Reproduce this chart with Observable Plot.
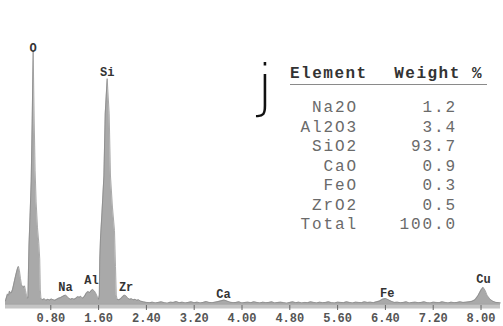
<!DOCTYPE html>
<html><head><meta charset="utf-8">
<script src="https://cdn.jsdelivr.net/npm/d3@7"></script>
<script src="https://cdn.jsdelivr.net/npm/@observablehq/plot@0.6"></script>
<style>
body{margin:0;background:#fff;}
#wrap{position:relative;width:503px;height:326px;overflow:hidden;}
#wrap svg{position:absolute;left:0;top:0;}
#jlab{position:absolute;left:257px;top:57px;font-family:"DejaVu Sans",sans-serif;font-weight:200;font-size:57px;line-height:57px;color:#111;}
#tbl{position:absolute;left:290px;top:64px;width:197px;font-family:"Liberation Mono",monospace;}
#tbl .hd{display:flex;justify-content:space-between;font-weight:bold;font-size:16px;letter-spacing:1.5px;color:#333;height:20px;line-height:20px;border-bottom:1.5px solid #8a8a8a;padding-right:4px;}
#tbl .rows{margin-top:14px;}
#tbl .r{position:relative;height:19.5px;line-height:19.5px;font-size:16px;letter-spacing:1.9px;color:#6a6a6a;}
#tbl .r .n{position:absolute;right:129px;}
#tbl .r .v{position:absolute;right:30px;}
</style></head><body><div id="wrap"></div>
<script>
const energyKeV = [
  0.042,0.075,0.095,0.109,0.125,0.142,0.16,0.176,0.193,0.209,
  0.226,0.243,0.259,0.276,0.293,0.31,0.327,0.343,0.36,0.377,
  0.395,0.41,0.418,0.425,0.435,0.455,0.472,0.488,0.505,0.522,
  0.538,0.555,0.578,0.6,0.615,0.625,0.635,0.66,0.69,0.72,
  0.75,0.78,0.81,0.84,0.87,0.9,0.93,0.96,0.99,1.02,
  1.046,1.07,1.1,1.13,1.16,1.19,1.22,1.25,1.28,1.3,
  1.33,1.36,1.39,1.42,1.45,1.48,1.5,1.53,1.56,1.585,
  1.6,1.612,1.62,1.632,1.657,1.689,1.711,1.744,1.777,1.799,
  1.832,1.866,1.883,1.896,1.91,1.94,1.97,2.0,2.03,2.06,
  2.09,2.12,2.15,2.18,2.21,2.24,2.27,2.3,2.35,2.4,
  2.45,2.5,2.55,2.6,2.65,2.7,2.75,2.8,2.85,2.9,
  2.95,3.0,3.05,3.1,3.15,3.2,3.25,3.3,3.35,3.4,
  3.45,3.5,3.55,3.6,3.65,3.7,3.75,3.8,3.85,3.9,
  3.95,4.0,4.05,4.1,4.15,4.2,4.25,4.3,4.35,4.4,
  4.45,4.5,4.55,4.6,4.65,4.7,4.75,4.8,4.85,4.9,
  4.95,5.0,5.05,5.1,5.15,5.2,5.25,5.3,5.35,5.4,
  5.45,5.5,5.55,5.6,5.65,5.7,5.75,5.8,5.85,5.9,
  5.95,6.0,6.05,6.1,6.15,6.2,6.25,6.3,6.35,6.4,
  6.45,6.5,6.55,6.6,6.65,6.7,6.75,6.8,6.85,6.9,
  6.95,7.0,7.05,7.1,7.15,7.2,7.25,7.3,7.35,7.4,
  7.45,7.5,7.55,7.6,7.65,7.7,7.75,7.8,7.85,7.9,
  7.95,8.0,8.035,8.07,8.1,8.15,8.2,8.25,8.3,8.326
];
const counts = [
  18,44,40,56,48,50,62,78,96,112,
  128,143,151,134,104,80,74,70,76,58,
  38,28,30,120,230,360,480,700,985,720,
  520,400,300,240,180,60,28,22,26,20,
  24,21,25,22,20,24,28,30,34,38,
  40,36,28,24,27,24,28,34,32,36,
  28,34,46,54,50,58,62,56,44,30,
  24,40,180,260,360,500,740,876,740,500,
  380,290,150,40,24,22,26,34,40,37,
  28,24,26,22,24,20,22,17,14,12,
  11,13,10,12,14,11,9,13,12,15,
  11,13,10,12,14,11,13,10,12,15,
  12,11,13,15,18,21,17,13,11,12,
  14,10,12,13,11,14,12,10,13,11,
  12,14,10,12,13,11,9,12,14,11,
  13,10,12,11,14,12,10,13,11,12,
  14,11,10,13,12,11,14,12,10,13,
  12,11,14,12,13,11,14,17,24,27,
  22,16,12,13,11,12,14,10,12,13,
  11,12,14,11,10,13,12,11,14,12,
  10,13,11,12,14,12,13,14,16,22,
  38,60,70,58,40,24,16,12,11,10
];
const peakNames = ["O","Si","Na","Al","Zr","Ca","Fe","Cu"];
const peakKeV = [0.505,1.744,1.046,1.48,2.06,3.69,6.43,8.04];
const peakLabelCounts = [992,900,69,97,69,42,46,100];
const tickValues = [0.8,1.6,2.4,3.2,4.0,4.8,5.6,6.4,7.2,8.0];
const oxides = ["Na2O","Al2O3","SiO2","CaO","FeO","ZrO2","Total"];
const weights = ["1.2","3.4","93.7","0.9","0.3","0.5","100.0"];
const tableHeader = ["Element","Weight %"];
const panelLetter = "j";

const spectrum = energyKeV.map((e,i)=>({e, c: counts[i]}));
const peaks = peakNames.map((n,i)=>({n, e: peakKeV[i], c: peakLabelCounts[i]}));

const chart = Plot.plot({
  width: 503, height: 326,
  marginLeft: 5, marginRight: 3, marginTop: 46, marginBottom: 21,
  x: {domain: [0.042, 8.326], label: null},
  y: {domain: [0, 1000], axis: null},
  style: {fontFamily: "Liberation Mono, monospace", background: "#fff"},
  marks: [
    Plot.areaY(spectrum, {x: "e", y: "c", fill: "#a9a9a9"}),
    Plot.lineY(spectrum, {x: "e", y: "c", stroke: "#858585", strokeWidth: 0.7}),
    Plot.ruleY([0], {stroke: "#c4c4c4", strokeWidth: 5, dy: 0.5}),
    Plot.ruleY([0], {stroke: "#999", strokeWidth: 1, dy: -1.5}),
    Plot.axisX(tickValues, {tickSize: 5, tickPadding: 3, tickFormat: d3.format(".2f"), fontSize: 12, fontWeight: "bold", fill: "#555", stroke: "#666", label: null}),
    Plot.text(peaks, {x: "e", y: "c", text: "n", fontSize: 12, fontWeight: "bold", fill: "#333"})
  ]
});
const wrap = document.getElementById("wrap");
wrap.appendChild(chart);

const j = document.createElement("div");
j.id = "jlab"; j.textContent = panelLetter;
wrap.appendChild(j);

const tbl = document.createElement("div");
tbl.id = "tbl";
const hd = document.createElement("div");
hd.className = "hd";
tableHeader.forEach(t => { const s = document.createElement("span"); s.textContent = t; hd.appendChild(s); });
tbl.appendChild(hd);
const rows = document.createElement("div");
rows.className = "rows";
oxides.forEach((o,i) => {
  const r = document.createElement("div"); r.className = "r";
  const n = document.createElement("span"); n.className = "n"; n.textContent = o;
  const v = document.createElement("span"); v.className = "v"; v.textContent = weights[i];
  r.appendChild(n); r.appendChild(v); rows.appendChild(r);
});
tbl.appendChild(rows);
wrap.appendChild(tbl);
</script></body></html>
